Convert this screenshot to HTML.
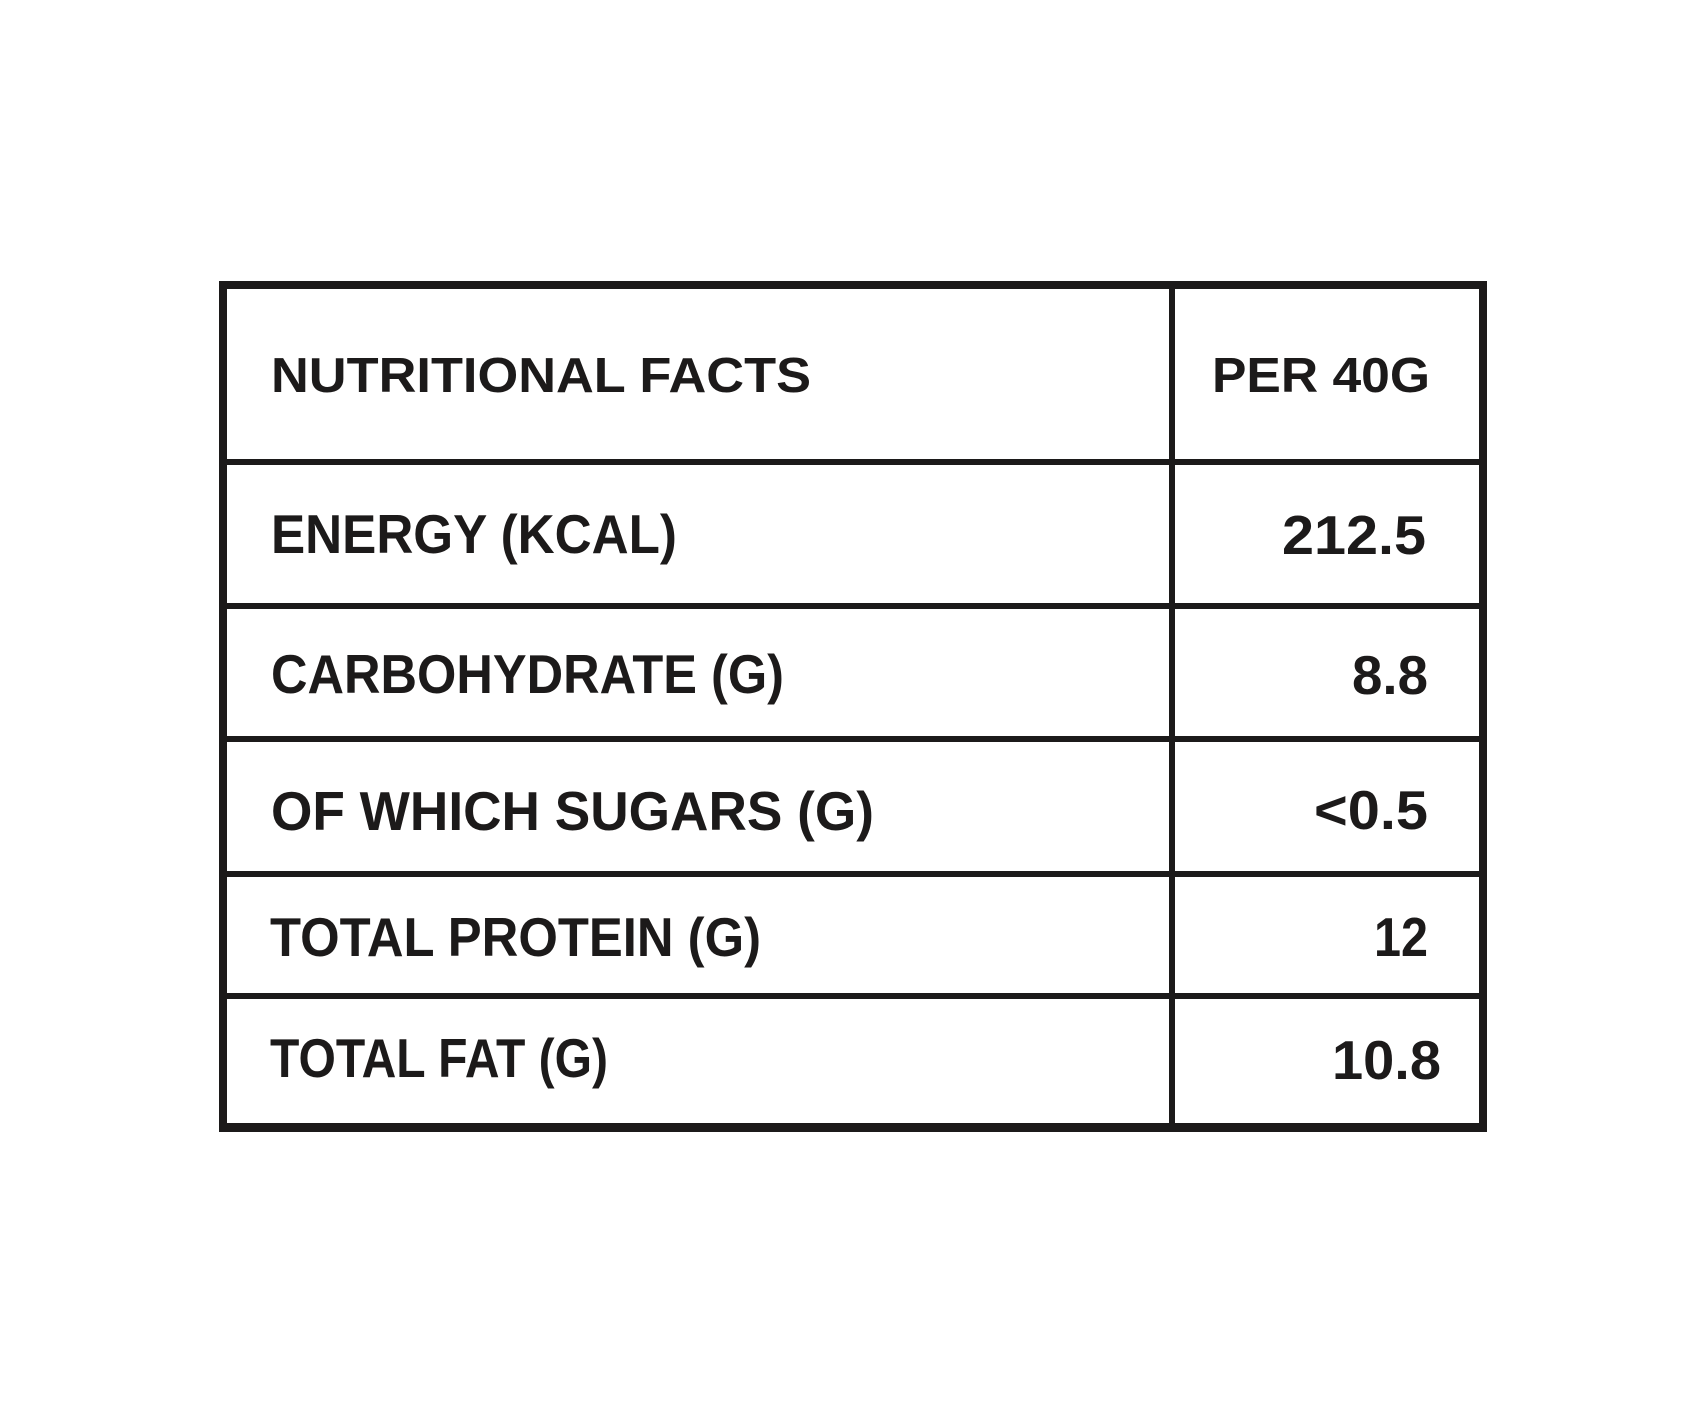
<!DOCTYPE html>
<html><head><meta charset="utf-8"><style>
html,body{margin:0;padding:0;background:#fff;}
svg{display:block;}
text{font-family:"Liberation Sans",sans-serif;font-weight:bold;fill:#1c1a1a;}
</style></head><body>
<svg width="1705" height="1414" viewBox="0 0 1705 1414" xmlns="http://www.w3.org/2000/svg">
<rect width="1705" height="1414" fill="#fff"/>
<g fill="#1c1a1a">
<rect x="219" y="281" width="1268" height="8"/>
<rect x="219" y="1123" width="1268" height="9"/>
<rect x="219" y="281" width="8" height="851"/>
<rect x="1479" y="281" width="8" height="851"/>
<rect x="1169" y="281" width="6" height="851"/>
<rect x="219" y="459" width="1268" height="6"/>
<rect x="219" y="603" width="1268" height="6"/>
<rect x="219" y="736" width="1268" height="6"/>
<rect x="219" y="871" width="1268" height="6"/>
<rect x="219" y="993" width="1268" height="6"/>
</g>
<text x="271" y="392" font-size="49" textLength="540" lengthAdjust="spacingAndGlyphs">NUTRITIONAL FACTS</text>
<text x="1212" y="392" font-size="49" textLength="218" lengthAdjust="spacingAndGlyphs">PER 40G</text>
<text x="271" y="553" font-size="55" textLength="406" lengthAdjust="spacingAndGlyphs">ENERGY (KCAL)</text>
<text x="271" y="693" font-size="55" textLength="513" lengthAdjust="spacingAndGlyphs">CARBOHYDRATE (G)</text>
<text x="271" y="830" font-size="55" textLength="603" lengthAdjust="spacingAndGlyphs">OF WHICH SUGARS (G)</text>
<text x="270" y="956" font-size="55" textLength="491" lengthAdjust="spacingAndGlyphs">TOTAL PROTEIN (G)</text>
<text x="270" y="1077" font-size="55" textLength="338" lengthAdjust="spacingAndGlyphs">TOTAL FAT (G)</text>
<text x="1282" y="554" font-size="55" textLength="144" lengthAdjust="spacingAndGlyphs">212.5</text>
<text x="1352" y="694" font-size="55" textLength="76" lengthAdjust="spacingAndGlyphs">8.8</text>
<text x="1314" y="829" font-size="55" textLength="114" lengthAdjust="spacingAndGlyphs">&lt;0.5</text>
<text x="1374" y="956" font-size="55" textLength="54" lengthAdjust="spacingAndGlyphs">12</text>
<text x="1332" y="1079" font-size="55" textLength="109" lengthAdjust="spacingAndGlyphs">10.8</text>
</svg>
</body></html>
